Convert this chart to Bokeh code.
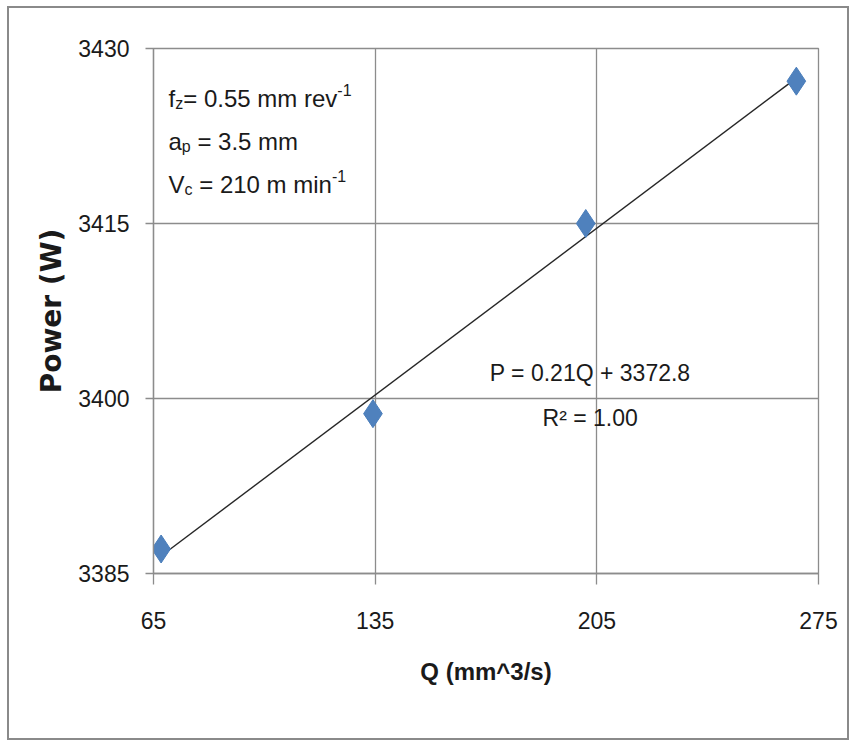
import numpy as np
from bokeh.plotting import figure
from bokeh.layouts import column
from bokeh.models import Range1d, FixedTicker
from bokeh.embed import file_html
from bokeh.resources import INLINE
from bokeh.core.properties import value

# ---- data ----
q_values = [67.4, 134.3, 201.5, 268.0]          # Q (mm^3/s)
power_values = [3387.1, 3398.7, 3415.0, 3427.2]  # Power (W)
x_ticks = [65, 135, 205, 275]
y_ticks = [3385, 3400, 3415, 3430]
x_title = "Q (mm^3/s)"
y_title = "Power (W)"
equation_text = "P = 0.21Q + 3372.8"
r2_text = "R² = 1.00"

# ---- styles ----
FONT = "Liberation Sans"
GRID = "#8c8c8c"
BLUE = "#4f81bd"
TXT = "#1a1a1a"

# linear trend line fitted through the points
slope, intercept = np.polyfit(q_values, power_values, 1)
trend_x = [min(q_values), max(q_values)]
trend_y = [slope * v + intercept for v in trend_x]

p = figure(width=838, height=730, output_backend="svg", toolbar_location=None,
           x_range=Range1d(x_ticks[0], x_ticks[-1]),
           y_range=Range1d(y_ticks[0], y_ticks[-1]),
           min_border_left=144, min_border_right=29,
           min_border_top=40, min_border_bottom=165,
           background_fill_color="white", border_fill_color="white")

p.outline_line_color = GRID
p.outline_line_width = 1.3

p.xaxis.ticker = FixedTicker(ticks=x_ticks)
p.yaxis.ticker = FixedTicker(ticks=y_ticks)
for ax in (p.xaxis, p.yaxis):
    ax.axis_line_color = GRID
    ax.axis_line_width = 1.3
    ax.major_tick_line_color = GRID
    ax.major_tick_line_width = 1.3
    ax.major_tick_in = 0
    ax.minor_tick_line_color = None
    ax.major_label_text_font = FONT
    ax.major_label_text_font_size = "23px"
    ax.major_label_text_color = TXT
    ax.axis_label_text_color = TXT

p.xaxis.major_tick_out = 11
p.yaxis.major_tick_out = 8
p.xaxis.major_label_standoff = 27
p.yaxis.major_label_standoff = 16

p.xaxis.axis_label = x_title
p.xaxis.axis_label_text_font = FONT
p.xaxis.axis_label_text_font_size = "24px"
p.xaxis.axis_label_text_font_style = "bold"
p.xaxis.axis_label_standoff = 26

p.yaxis.axis_label = y_title
p.yaxis.axis_label_text_font = "DejaVu Sans"
p.yaxis.axis_label_text_font_size = "28px"
p.yaxis.axis_label_text_font_style = "bold"
p.yaxis.axis_label_standoff = 7

p.grid.grid_line_color = GRID
p.grid.grid_line_width = 1.3

# trend line and points
p.line(trend_x, trend_y, line_color="#262626", line_width=1.4)
p.scatter(q_values, power_values, marker="diamond", size=28,
          fill_color=BLUE, line_color="#4a7ebb", line_width=1)

# parameter block (top-left) with sub/superscripts
x0, y0 = x_ticks[0], y_ticks[-1]
main = dict(text_font=value(FONT), text_font_size="24px", text_color=TXT,
            text_baseline="alphabetic", text_align="left")
small = dict(text_font=value(FONT), text_font_size="16px", text_color=TXT,
             text_baseline="alphabetic", text_align="left")

def piece(txt, dx, dy, style):
    p.text(x=[x0], y=[y0], text=[txt], x_offset=dx, y_offset=dy, **style)

b1, b2, b3 = 50, 93, 136
sub, sup = 5, -9
piece("f", 15, b1, main)
piece("z", 21.7, b1 + sub, small)
piece("= 0.55 mm rev", 29.7, b1, main)
piece("-1", 183.8, b1 + sup, small)

piece("a", 15, b2, main)
piece("p", 28.3, b2 + sub, small)
piece("= 3.5 mm", 43.9, b2, main)

piece("V", 15, b3, main)
piece("c", 31.0, b3 + sub, small)
piece("= 210 m min", 45.7, b3, main)
piece("-1", 178.4, b3 + sup, small)

# regression equation
eq_style = dict(text_font=value(FONT), text_font_size="23px", text_color=TXT,
                text_baseline="alphabetic", text_align="center")
p.text(x=[202.9], y=[3402.2], text=[equation_text], **eq_style)
p.text(x=[202.9], y=[3398.35], text=[r2_text], **eq_style)

# outer chart-area border around the plot
layout = column(p, margin=(6, 0, 0, 7),
                styles={"border": "2px solid #8a8a8a", "background": "white"})

open("out.html", "w").write(file_html(layout, INLINE))
